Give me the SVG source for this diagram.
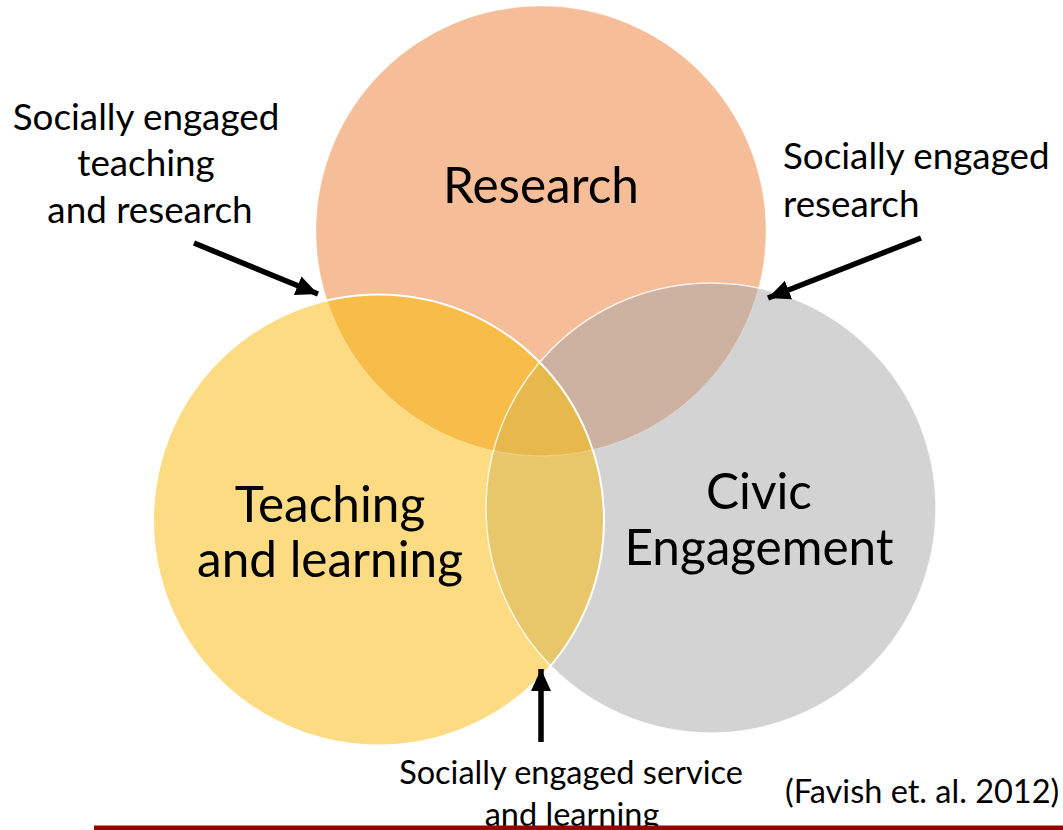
<svg xmlns="http://www.w3.org/2000/svg" width="1063" height="830" viewBox="0 0 1063 830">
<style>
.lbl{font-family:Lato,"Open Sans","Liberation Sans",sans-serif;fill:#000;}
.big{font-size:49.5px;}
.mid{font-size:36.8px;}
.sm{font-size:32.5px;}
.arrow{stroke:#000;stroke-width:5.5;fill:none;}
</style>
<defs>
<marker id="ah" markerUnits="userSpaceOnUse" markerWidth="24" markerHeight="22" refX="22" refY="10" orient="auto">
<path d="M0,0 L22,10 L0,20 Z" fill="#000"/>
</marker>
<clipPath id="cR"><circle cx="541" cy="231" r="225"/></clipPath>
<clipPath id="cT"><circle cx="378.5" cy="520" r="225.5"/></clipPath>
</defs>
<rect width="1063" height="830" fill="#fff"/>
<g id="research">
<circle cx="541" cy="231" r="225" fill="#F5BD98"/>
</g>
<g id="civic">
<circle cx="711" cy="508" r="225" fill="#D3D3D3"/>
</g>
<g id="teaching">
<circle cx="378.5" cy="520" r="225.5" fill="#FCDB82"/>
</g>
<g id="overlaps">
<circle cx="378.5" cy="520" r="225.5" fill="#F8BC48" clip-path="url(#cR)"/>
<circle cx="711" cy="508" r="225" fill="#CDB1A1" clip-path="url(#cR)"/>
<circle cx="711" cy="508" r="225" fill="#E8C76A" clip-path="url(#cT)"/>
<g clip-path="url(#cR)"><circle cx="711" cy="508" r="225" fill="#E7B94C" clip-path="url(#cT)"/></g>
<circle cx="541" cy="231" r="225" fill="none" stroke="#fff" stroke-width="1" stroke-opacity="0.3"/>
<circle cx="711" cy="508" r="225" fill="none" stroke="#fff" stroke-width="1.5" stroke-opacity="0.8"/>
<circle cx="378.5" cy="520" r="225.5" fill="none" stroke="#fff" stroke-width="2"/>
</g>
<g id="circle-labels">
<text class="lbl big" x="541" y="203" text-anchor="middle">Research</text>
<text class="lbl big" x="330" y="522" text-anchor="middle">Teaching</text>
<text class="lbl big" x="330" y="577" text-anchor="middle">and learning</text>
<text class="lbl big" x="759" y="509" text-anchor="middle">Civic</text>
<text class="lbl big" x="759" y="565" text-anchor="middle">Engagement</text>
</g>
<g id="connectors">
<line class="arrow" x1="194" y1="243" x2="318" y2="294" marker-end="url(#ah)"/>
<line class="arrow" x1="921" y1="238" x2="768" y2="298" marker-end="url(#ah)"/>
<line class="arrow" x1="541" y1="742" x2="541" y2="669" marker-end="url(#ah)"/>
</g>
<g id="label-teaching-research">
<text class="lbl mid" x="146" y="130" text-anchor="middle">Socially engaged</text>
<text class="lbl mid" x="146" y="176" text-anchor="middle">teaching</text>
<text class="lbl mid" x="150" y="223" text-anchor="middle">and research</text>
</g>
<g id="label-research">
<text class="lbl mid" x="783" y="169">Socially engaged</text>
<text class="lbl mid" x="783" y="217">research</text>
</g>
<g id="label-service">
<text class="lbl sm" x="571" y="784" text-anchor="middle">Socially engaged service</text>
<text class="lbl sm" x="572" y="826" text-anchor="middle">and learning</text>
</g>
<g id="citation">
<text class="lbl sm" x="785" y="803">(Favish et. al. 2012)</text>
</g>
<rect x="94" y="825.5" width="969" height="4.5" fill="#9B0000"/>
</svg>
